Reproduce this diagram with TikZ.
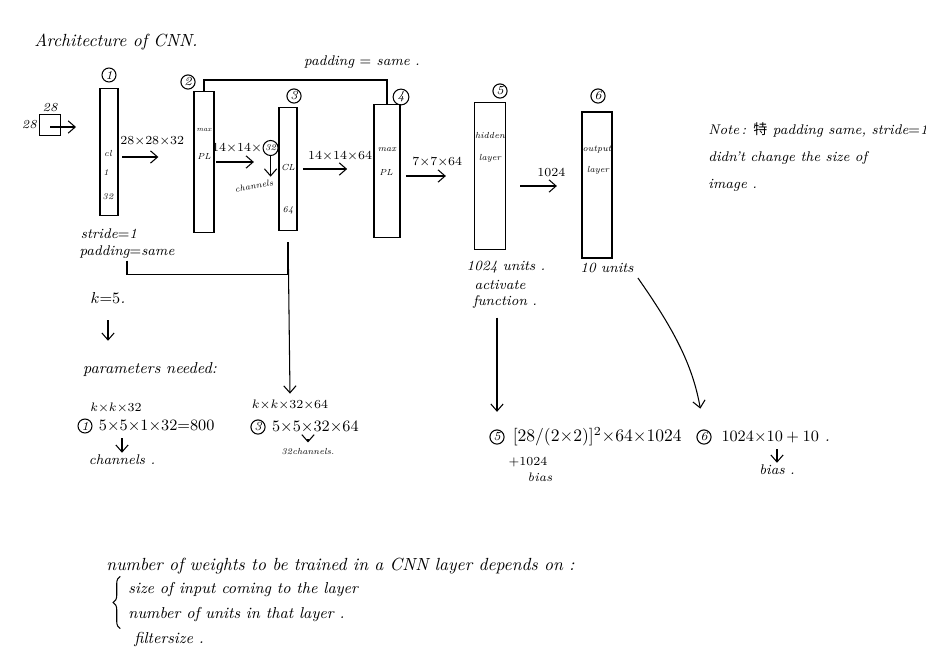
\documentclass[tikz,border=0pt]{standalone}
\usepackage{fontspec}
\newfontfamily\cjkfont{Noto Sans CJK SC}
\usepackage{tikz}
\usetikzlibrary{arrows.meta, positioning, decorations.pathreplacing}

\tikzset{
    layer/.style={draw, inner sep=0pt},
    num/.style={draw, circle, inner sep=0.6pt, font=\scriptsize},
    inbar/.style={font=\tiny, inner sep=0.5pt},
    lbl/.style={font=\footnotesize, inner sep=1pt},
    size/.style={font=\scriptsize, inner sep=1pt},
    flow/.style={->},
}

\begin{document}
\itshape
\begin{tikzpicture}[x=0.02cm, y=-0.02cm, >={Straight Barb[length=4pt, width=7pt]}, semithick]
    \useasboundingbox (0,0) rectangle (926,666);

    \node[anchor=west] (title) at (28,42) {Architecture of CNN.};

    % input image
    \node[draw, minimum size=0.42cm, inner sep=0pt] (inp) at (50,125) {};
    \node[size, above=0pt of inp] (inw) {28};
    \node[size, left=0pt of inp] (inh) {28};
    \coordinate (inpto) at (76,127);
    \draw[flow] (inp.center |- inpto) -- (inpto);

    % layers
    \node[layer, minimum width=0.36cm, minimum height=2.54cm] (L1) at (109,152) {};
    \node[layer, minimum width=0.4cm, minimum height=2.82cm] (L2) at (204,162) {};
    \node[layer, minimum width=0.36cm, minimum height=2.46cm] (L3) at (288,169) {};
    \node[layer, minimum width=0.52cm, minimum height=2.66cm] (L4) at (387,171) {};
    \node[layer, minimum width=0.62cm, minimum height=2.94cm] (L5) at (490,176) {};
    \node[layer, minimum width=0.6cm, minimum height=2.92cm] (L6) at (597,185) {};

    \node[num] (n1) at (109,75) {1};
    \node[num] (n2) at (188,82) {2};
    \node[num] (n3) at (294,96) {3};
    \node[num] (n4) at (401,97) {4};
    \node[num] (n5) at (500,91) {5};
    \node[num] (n6) at (598,96) {6};

    \node[inbar] (t1a) at (108,153) {cl};
    \node[inbar] (t1b) at (106,173) {1};
    \node[inbar] (t1c) at (108,197) {32};
    \node[inbar, font=\fontsize{4}{5}\selectfont] (t2a) at (204,130) {max};
    \node[inbar] (t2b) at (204,156) {PL};
    \node[inbar] (t3a) at (288,167) {CL};
    \node[inbar] (t3b) at (288,210) {64};
    \node[inbar] (t4a) at (387,150) {max};
    \node[inbar] (t4b) at (386,172) {PL};
    \node[inbar] (t5a) at (490,135) {hidden};
    \node[inbar] (t5b) at (490,158) {layer};
    \node[inbar] (t6a) at (597,150) {output};
    \node[inbar] (t6b) at (598,170) {layer};

    % sizes between layers
    \draw[flow, shorten <=2pt, shorten >=20pt] (L1.east |- 0,157) -- (L2.west |- 0,157)
        node[size, pos=0.45, above=5pt] (s1) {$28{\times}28{\times}32$};
    \draw[flow, shorten <=1pt, shorten >=14pt] (L2.east) -- (L2.east -| L3.west);
    \node[size] (s2) at (237,148) {$14{\times}14{\times}$};
    \node[num, font=\tiny, right=-1pt of s2] (c32) {32};
    \node[font=\tiny, rotate=10] (chn) at (254,186) {channels};
    \draw[flow] (c32.south) -- (chn.north -| c32.south);
    \draw[flow, shorten <=3pt, shorten >=15pt] (L3.east) -- (L3.east -| L4.west)
        node[size, pos=0.56, above=3pt] (s3) {$14{\times}14{\times}64$};
    \draw[flow, shorten <=3pt, shorten >=16pt] (L4.east |- 0,176) -- (L5.west |- 0,176)
        node[size, pos=0.5, above=4pt] (s4) {$7{\times}7{\times}64$};
    \draw[flow, shorten <=8pt, shorten >=14pt] (L5.east |- 0,186) -- (L6.west |- 0,186)
        node[size, pos=0.6, above=4pt] (s5) {$1024$};

    % padding brackets
    \node[lbl] (padtop) at (362,62) {padding $=$ same .};
    \coordinate (tb) at (387,80);
    \draw (L2.north) |- (tb) -- (L4.north);
    \node[lbl] (strd) at (109,234) {stride$=$1};
    \node[lbl] (padbot) at (127,252) {padding$=$same};
    \draw[shorten >=6pt] (padbot.south) -- ++(0,14) -| (L3.south);

    % units
    \node[lbl] (u1024) at (506,267) {1024 units .};
    \node[lbl] (act) at (500,285) {activate};
    \node[lbl] (fn) at (505,302) {function .};
    \node[lbl] (u10) at (607,268) {10 units};

    % note
    \node[anchor=north west, align=left, font=\footnotesize] (note) at (702,116)
        {Note\,: {\cjkfont 特} padding same, stride$=$1\\[6pt]
         didn't change the size of\\[6pt]
         image .};

    % parameters
    \node[font=\small] (k5) at (108,298) {$k{=}5$.};
    \node[font=\small] (par) at (150,370) {parameters needed:};
    \draw[flow, shorten <=6pt, shorten >=9pt] (k5.south) -- (k5.south |- par.north);

    \node[num] (c1) at (85,426) {1};
    \node[font=\small, right=0pt of c1] (p1) {$5{\times}5{\times}1{\times}32{=}800$};
    \node[font=\scriptsize] (kk1) at (116,408) {$k{\times}k{\times}32$};
    \node[lbl] (chn1) at (122,460) {channels .};
    \draw[flow] (p1.south -| chn1.north) -- (chn1.north);

    \node[num] (c3) at (258,427) {3};
    \node[font=\small, right=0pt of c3] (p3) {$5{\times}5{\times}32{\times}64$};
    \node[font=\scriptsize] (kk3) at (290,405) {$k{\times}k{\times}32{\times}64$};
    \node[font=\tiny] (chn3) at (308,452) {32channels.};
    \draw[flow] (p3.south -| chn3.north) -- (chn3.north);
    \draw[flow, shorten <=8pt] (L3.south) -- (kk3.north);

    \node[num] (c5) at (497,437) {5};
    \node[right=1pt of c5] (p5) {$[28/(2{\times}2)]^2{\times}64{\times}1024$};
    \node[font=\scriptsize] (b5a) at (528,462) {$+1024$};
    \node[font=\scriptsize] (b5b) at (540,477) {bias};
    \draw[flow, shorten <=4pt, shorten >=10pt] (fn.south -| c5.north) -- (c5.north);

    \node[num] (c6) at (704,437) {6};
    \node[font=\small, right=2pt of c6] (p6) {$1024{\times}10+10$ .};
    \node[lbl] (b6) at (777,470) {bias .};
    \draw[flow] (p6.south -| b6.north) -- (b6.north);
    \draw[flow, shorten <=2pt, shorten >=12pt] (u10.south east) to[out=-55, in=100] (c6.north);

    % summary
    \node[anchor=west] (w0) at (100,566) {number of weights to be trained in a CNN layer depends on :};
    \node[anchor=west, font=\small] (w1) at (122,590) {size of input coming to the layer};
    \node[anchor=west, font=\small] (w2) at (122,615) {number of units in that layer .};
    \node[anchor=west, font=\small] (w3) at (128,640) {filtersize .};
    \draw[decorate, decoration={brace, amplitude=4pt}] ([xshift=-1pt]w2.south west) -- ([xshift=-1pt]w1.north west);
\end{tikzpicture}
\end{document}
